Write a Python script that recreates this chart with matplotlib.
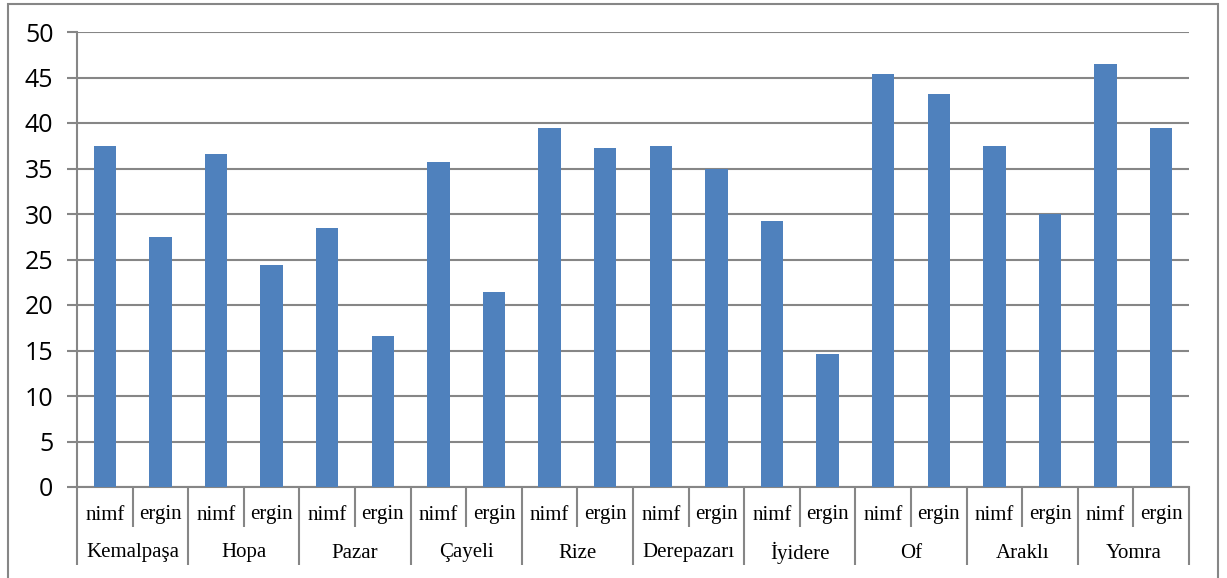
import matplotlib
matplotlib.use("Agg")
import matplotlib.pyplot as plt
from matplotlib.patches import Rectangle
from matplotlib.transforms import blended_transform_factory

# data
places = ['Kemalpaşa', 'Hopa', 'Pazar', 'Çayeli', 'Rize',
          'Derepazarı', 'İyidere', 'Of', 'Araklı', 'Yomra']
stages = ['nimf', 'ergin']
nimf = [37.5, 36.6, 28.5, 35.7, 39.5, 37.5, 29.2, 45.4, 37.5, 46.5]
ergin = [27.5, 24.4, 16.6, 21.4, 37.2, 35.0, 14.6, 43.2, 30.0, 39.5]

values = []
for a, b in zip(nimf, ergin):
    values += [a, b]

bar_color = '#4F81BD'
line_color = '#868686'

fig = plt.figure(figsize=(12.27, 5.78), dpi=100)
ax = fig.add_axes([77 / 1227, 1 - 487 / 578, (1189 - 77) / 1227, (487 - 32) / 578])

x = list(range(len(values)))
ax.bar(x, values, width=0.4, color=bar_color, zorder=3)

ax.set_xlim(-0.5, len(values) - 0.5)
ax.set_ylim(0, 50)
ax.set_yticks(range(0, 51, 5))
ax.yaxis.grid(True, color=line_color, linewidth=1.5, zorder=0)
ax.set_xticks([])
for s in ['top', 'right']:
    ax.spines[s].set_visible(False)
ax.spines['left'].set_color(line_color)
ax.spines['left'].set_linewidth(1.5)
ax.spines['bottom'].set_color(line_color)
ax.spines['bottom'].set_linewidth(1.5)
ax.tick_params(axis='y', length=7, width=1.5, color=line_color, pad=10,
               labelsize=18)
for lab in ax.get_yticklabels():
    lab.set_fontfamily('Open Sans')

# two level category axis
tr = blended_transform_factory(ax.transData, ax.transAxes)
h = (487 - 32)  # axes height in px
inner_bot = -(527 - 487) / h
outer_bot = -(565 - 487) / h
for i in range(len(values) + 1):
    xb = i - 0.5
    y1 = outer_bot if i % 2 == 0 else inner_bot
    ax.plot([xb, xb], [0, y1], transform=tr, color=line_color, lw=1.5,
            clip_on=False, solid_capstyle='butt')
for i, v in enumerate(values):
    ax.text(i, -(515 - 487) / h, stages[i % 2], transform=tr, ha='center',
            va='center', fontsize=15, family='Liberation Serif')
for j, p in enumerate(places):
    ax.text(2 * j + 0.5, -(553 - 487) / h, p, transform=tr, ha='center',
            va='center', fontsize=15, family='Liberation Serif')

# outer frame of the chart
fig.patches.append(Rectangle((8 / 1227, -0.05), (1218 - 8) / 1227,
                             1.05 - 4 / 578, transform=fig.transFigure,
                             fill=False, edgecolor=line_color, lw=1.5))

fig.savefig('out.png', dpi=100, facecolor='white')
